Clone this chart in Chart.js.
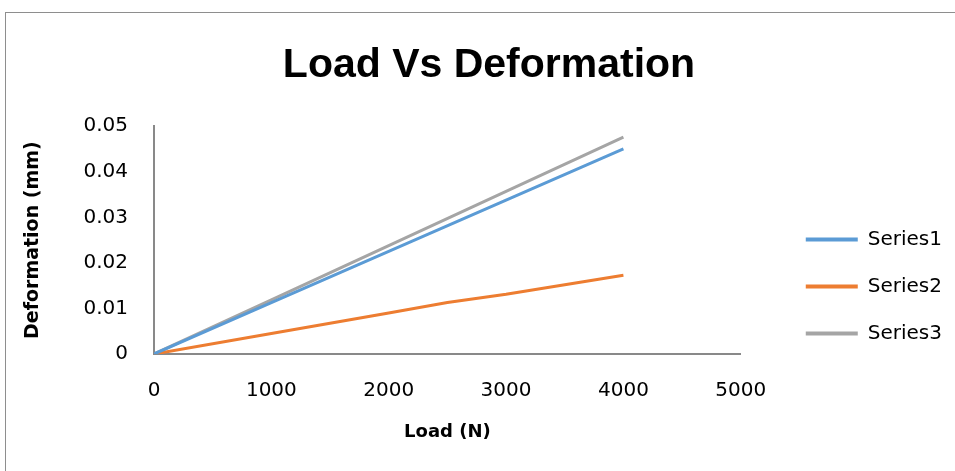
<!DOCTYPE html>
<html>
<head>
<meta charset="utf-8">
<script src="https://cdn.jsdelivr.net/npm/chart.js@4.4.0/dist/chart.umd.min.js"></script>
<style>
  html, body { margin: 0; padding: 0; background: #fff; overflow: hidden; }
  #frame { position: absolute; left: 5px; top: 12px; width: 1000px; height: 1000px; border: 1px solid #8e8e8e; }
  #loadChart { position: absolute; left: 0; top: 0; }
</style>
</head>
<body>
<div id="frame"></div>
<canvas id="loadChart" width="955" height="471"></canvas>
<script>
// Load (N) / Deformation (mm)
const loads = [0, 1000, 2000, 3000, 4000];
const series1 = [0, 0.0113, 0.0225, 0.0338, 0.045];
const series3 = [0, 0.0119, 0.0238, 0.0357, 0.0476];
const loads2 = [0, 1000, 2000, 2500, 3000, 4000];
const series2 = [0, 0.0045, 0.009, 0.0113, 0.0131, 0.0173];
const seriesNames = ['Series1', 'Series2', 'Series3'];
const colors = ['#5b9bd5', '#ed7d31', '#a5a5a5'];

const toPoints = (xs, ys) => xs.map((x, i) => ({ x: x, y: ys[i] }));

// legend/title nudge, Chart.js keeps the legend glued to the plot
const nudge = {
    id: 'nudge',
    afterLayout(chart) {
        chart.legend.left += 38;
        chart.legend.right += 38;
        chart.legend.top += 51;
        chart.legend.bottom += 51;
        chart.titleBlock.left += 32;
        chart.titleBlock.right += 32;
        chart.titleBlock.top += 2;
        chart.titleBlock.bottom += 2;
    }
};

const axisColor = '#898989';

new Chart(document.getElementById('loadChart').getContext('2d'), {
    type: 'line',
    data: {
        datasets: [
            { label: seriesNames[0], data: toPoints(loads, series1) },
            { label: seriesNames[1], data: toPoints(loads2, series2) },
            { label: seriesNames[2], data: toPoints(loads, series3) }
        ].map((d, i) => ({
            ...d,
            borderColor: colors[i],
            backgroundColor: colors[i],
            borderWidth: 3,
            pointRadius: 0,
            tension: 0
        }))
    },
    options: {
        responsive: false,
        animation: false,
        layout: { padding: { left: 0, right: 41, top: 0, bottom: 0 } },
        scales: {
            x: {
                type: 'linear',
                min: 0,
                max: 5000,
                grid: { display: false, drawTicks: false },
                border: { display: true, color: axisColor, width: 2 },
                ticks: {
                    stepSize: 1000,
                    padding: 25,
                    color: '#000',
                    font: { family: 'DejaVu Sans', size: 20 },
                    callback: (v) => String(v)
                },
                title: {
                    display: true,
                    text: 'Load (N)',
                    color: '#000',
                    font: { family: 'DejaVu Sans', size: 18, weight: 'bold' },
                    padding: { top: 0, bottom: 28 }
                },
                afterFit: (scale) => { scale.height = 117; }
            },
            y: {
                min: 0,
                max: 0.05,
                grid: { display: false, drawTicks: false },
                border: { display: true, color: axisColor, width: 2 },
                ticks: {
                    stepSize: 0.01,
                    padding: 26,
                    color: '#000',
                    font: { family: 'DejaVu Sans', size: 20 },
                    callback: (v) => String(+v.toFixed(2))
                },
                title: {
                    display: true,
                    text: 'Deformation (mm)',
                    color: '#000',
                    font: { family: 'DejaVu Sans', size: 19, weight: 'bold' },
                    padding: { top: 22, bottom: 0 }
                },
                afterFit: (scale) => { scale.width = 154; }
            }
        },
        plugins: {
            title: {
                display: true,
                text: 'Load Vs Deformation',
                color: '#000',
                font: { family: 'Liberation Sans', size: 41, weight: 'bold' },
                padding: { top: 39, bottom: 38 }
            },
            legend: {
                position: 'right',
                labels: {
                    boxWidth: 52,
                    boxHeight: 4,
                    padding: 27,
                    color: '#000',
                    font: { family: 'DejaVu Sans', size: 20 },
                    generateLabels: (chart) => Chart.defaults.plugins.legend.labels.generateLabels(chart)
                        .map(l => ({ ...l, lineWidth: 0 }))
                }
            },
            tooltip: { enabled: false }
        }
    },
    plugins: [nudge]
});
</script>
</body>
</html>
